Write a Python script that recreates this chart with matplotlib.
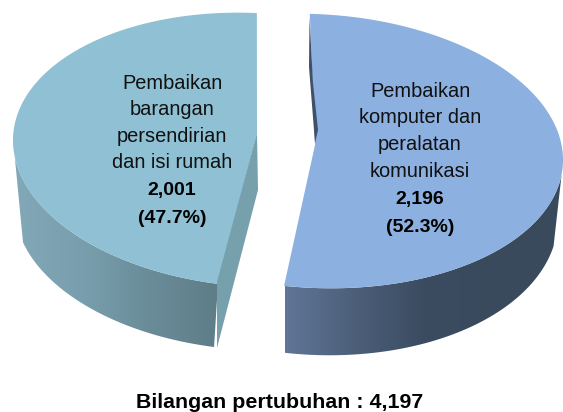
import numpy as np
import matplotlib
matplotlib.use("Agg")
import matplotlib.pyplot as plt
from matplotlib.patches import Polygon
from matplotlib.colors import LinearSegmentedColormap

plt.rcParams['font.family'] = ['Liberation Sans', 'DejaVu Sans']

# ---- data ----
categories = ["Pembaikan\nkomputer dan\nperalatan\nkomunikasi",
              "Pembaikan\nbarangan\npersendirian\ndan isi rumah"]
values = [2196, 2001]
value_labels = ["2,196", "2,001"]
pct_labels = ["(52.3%)", "(47.7%)"]
total_label = "Bilangan pertubuhan : 4,197"

total = sum(values)
sweeps = [360.0 * v / total for v in values]

fig = plt.figure(figsize=(5.63, 4.12), dpi=100)
ax = fig.add_axes([0, 0, 1, 1])
ax.set_xlim(0, 563)
ax.set_ylim(412, 0)
ax.axis('off')


def ell(t, cx, cy, a, b, k):
    r = np.radians(t)
    dx = a * np.sin(r)
    return np.column_stack([cx + dx, cy - b * np.cos(r) + k * dx])


def grad_fill(poly, stops, x0, x1):
    cmap = LinearSegmentedColormap.from_list("g", stops)
    im = ax.imshow(np.linspace(0, 1, 256)[None, :], cmap=cmap, aspect='auto',
                   extent=(x0, x1, 412, 0), zorder=2)
    p = Polygon(poly, closed=True, facecolor='none', edgecolor='none', transform=ax.transData)
    ax.add_patch(p)
    im.set_clip_path(p)
    ax.set_xlim(0, 563)
    ax.set_ylim(412, 0)


# right slice
r_start = -1.2
r_end = r_start + sweeps[0]
r_top = (315, 151, 248, 137, 0.036)
r_bot = (315, 210, 243, 145, 0.036)
wall = np.vstack([ell(np.linspace(r_end, 101, 200), *r_bot),
                  ell(np.linspace(96, r_end, 200), *r_top)])
grad_fill(wall, ["#607698", "#4C5F79", "#3B4C61", "#3A4A5D", "#3A4A5D"], 285, 563)
t = np.linspace(r_start, r_end, 300)
face = np.vstack([ell(t, *r_top), [[315, 145]]])
ax.add_patch(Polygon(face, closed=True, facecolor="#8CB0E0", edgecolor='none', zorder=3))
ax.add_patch(Polygon([[309.5, 17], [309, 67], [315, 143], [318, 130], [313, 83]],
                     closed=True, facecolor="#3F5068", edgecolor='none', zorder=4))

# left slice
l_start = 188.8
l_end = l_start + sweeps[1]
l_top = (255, 150, 242, 137, 0.04)
l_bot = (250, 217, 235, 133, 0.04)
wall = np.vstack([ell(np.linspace(l_start, 255, 200), *l_bot),
                  ell(np.linspace(263, l_start, 200), *l_top)])
grad_fill(wall, ["#83A8B8", "#799FAE", "#6A8C99", "#5E7D88"], 13, 218)
t = np.linspace(l_start, l_end, 300)
face = np.vstack([ell(t, *l_top), [[257, 133]]])
ax.add_patch(Polygon(face, closed=True, facecolor="#8FC0D3", edgecolor='none', zorder=3))
ax.add_patch(Polygon([[257, 133], [258, 190], [217, 348], [217, 282]],
                     closed=True, facecolor="#76A0AC", edgecolor='none', zorder=4))

# labels
centers = [420, 172]
first_y = [91, 83]
steps = [26.8, 26.6]
for i in range(2):
    lines = categories[i].split("\n")
    y = first_y[i]
    for ln in lines:
        ax.text(centers[i], y, ln, ha='center', va='center', fontsize=14.4,
                color='#111111', zorder=5)
        y += steps[i]
    ax.text(centers[i], y + 1, value_labels[i], ha='center', va='center', fontsize=14.0,
            fontweight='bold', color='black', zorder=5)
    ax.text(centers[i], y + 29, pct_labels[i], ha='center', va='center', fontsize=14.0,
            fontweight='bold', color='black', zorder=5)

ax.text(279.5, 402.5, total_label, ha='center', va='center', fontsize=15.4,
        fontweight='bold', color='black')

fig.savefig("out.png", dpi=100)
